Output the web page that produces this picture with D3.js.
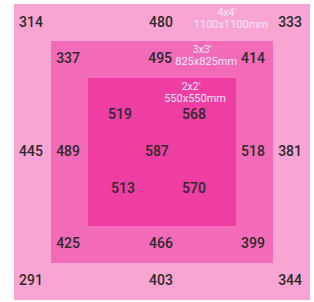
<!DOCTYPE html>
<html>
<head>
<meta charset="utf-8">
<script src="https://cdn.jsdelivr.net/npm/d3@7"></script>
<style>
  body { margin: 0; background: #fff; }
  text { font-family: Roboto, "DejaVu Sans", sans-serif; }
</style>
</head>
<body>
<svg></svg>
<script>
// grow area rings (mm) and their labels
const ringSizes = [1100, 825, 550]
const ringFeet = ["4x4\u2032", "3x3\u2032", "2x2\u2032"]
const ringMm = ["1100x1100mm", "825x825mm", "550x550mm"]
const ringLabelX = [256, 164, 123]

// PPFD readings and where they were taken (mm from centre)
const values = [314, 480, 333, 337, 495, 414, 519, 568, 445, 489, 587, 518, 381, 513, 570, 425, 466, 399, 291, 403, 344]
const xMm = [-487, -4, 476, -349, -7, 338, -156, 119, -487, -349, -19, 338, 476, -145, 119, -349, -4, 338, -487, -4, 476]
const yMm = [-483, -483, -483, -349, -349, -349, -141, -141, -4, -4, -4, -4, -4, 134, 134, 338, 338, 338, 476, 476, 476]

const width = 314
const height = 302
const colors = ["#f8a5d3", "#f36bb8", "#ef3ea3"]

const svg = d3.select('svg')
  .attr('width', width)
  .attr('height', height)

const x = d3.scaleLinear().domain([-550, 550]).range([14, 310])
const y = d3.scaleLinear().domain([-550, 550]).range([4, 300])

svg.selectAll("rect.ring")
  .data(ringSizes)
  .enter().append("rect")
    .attr("class", "ring")
    .attr("x", d => x(-d / 2))
    .attr("y", d => y(-d / 2))
    .attr("width", d => x(d / 2) - x(-d / 2))
    .attr("height", d => y(d / 2) - y(-d / 2))
    .attr("fill", (d, i) => colors[i])

// ring size labels, two lines at top
const lab = svg.selectAll("g.ringlabel")
  .data(ringSizes)
  .enter().append("g")
    .attr("class", "ringlabel")

lab.append("text")
    .attr("x", (d, i) => x(ringLabelX[i]) - 4)
    .attr("y", d => y(-d / 2) + 12)
    .attr("text-anchor", "middle")
    .style("font-size", "10.5px")
    .style("fill", "#fde9f4")
    .text((d, i) => ringFeet[i])

lab.append("text")
    .attr("x", (d, i) => x(ringLabelX[i]))
    .attr("y", d => y(-d / 2) + 24)
    .attr("text-anchor", "middle")
    .style("font-size", "11px")
    .style("fill", "#fde9f4")
    .text((d, i) => ringMm[i])

svg.selectAll("text.val")
  .data(values)
  .enter().append("text")
    .attr("class", "val")
    .attr("x", (d, i) => x(xMm[i]))
    .attr("y", (d, i) => y(yMm[i]))
    .attr("dy", "0.36em")
    .attr("text-anchor", "middle")
    .style("font-size", "14px")
    .style("font-weight", 500)
    .style("fill", "#2e2a2c")
    .text(d => d)
</script>
</body>
</html>
